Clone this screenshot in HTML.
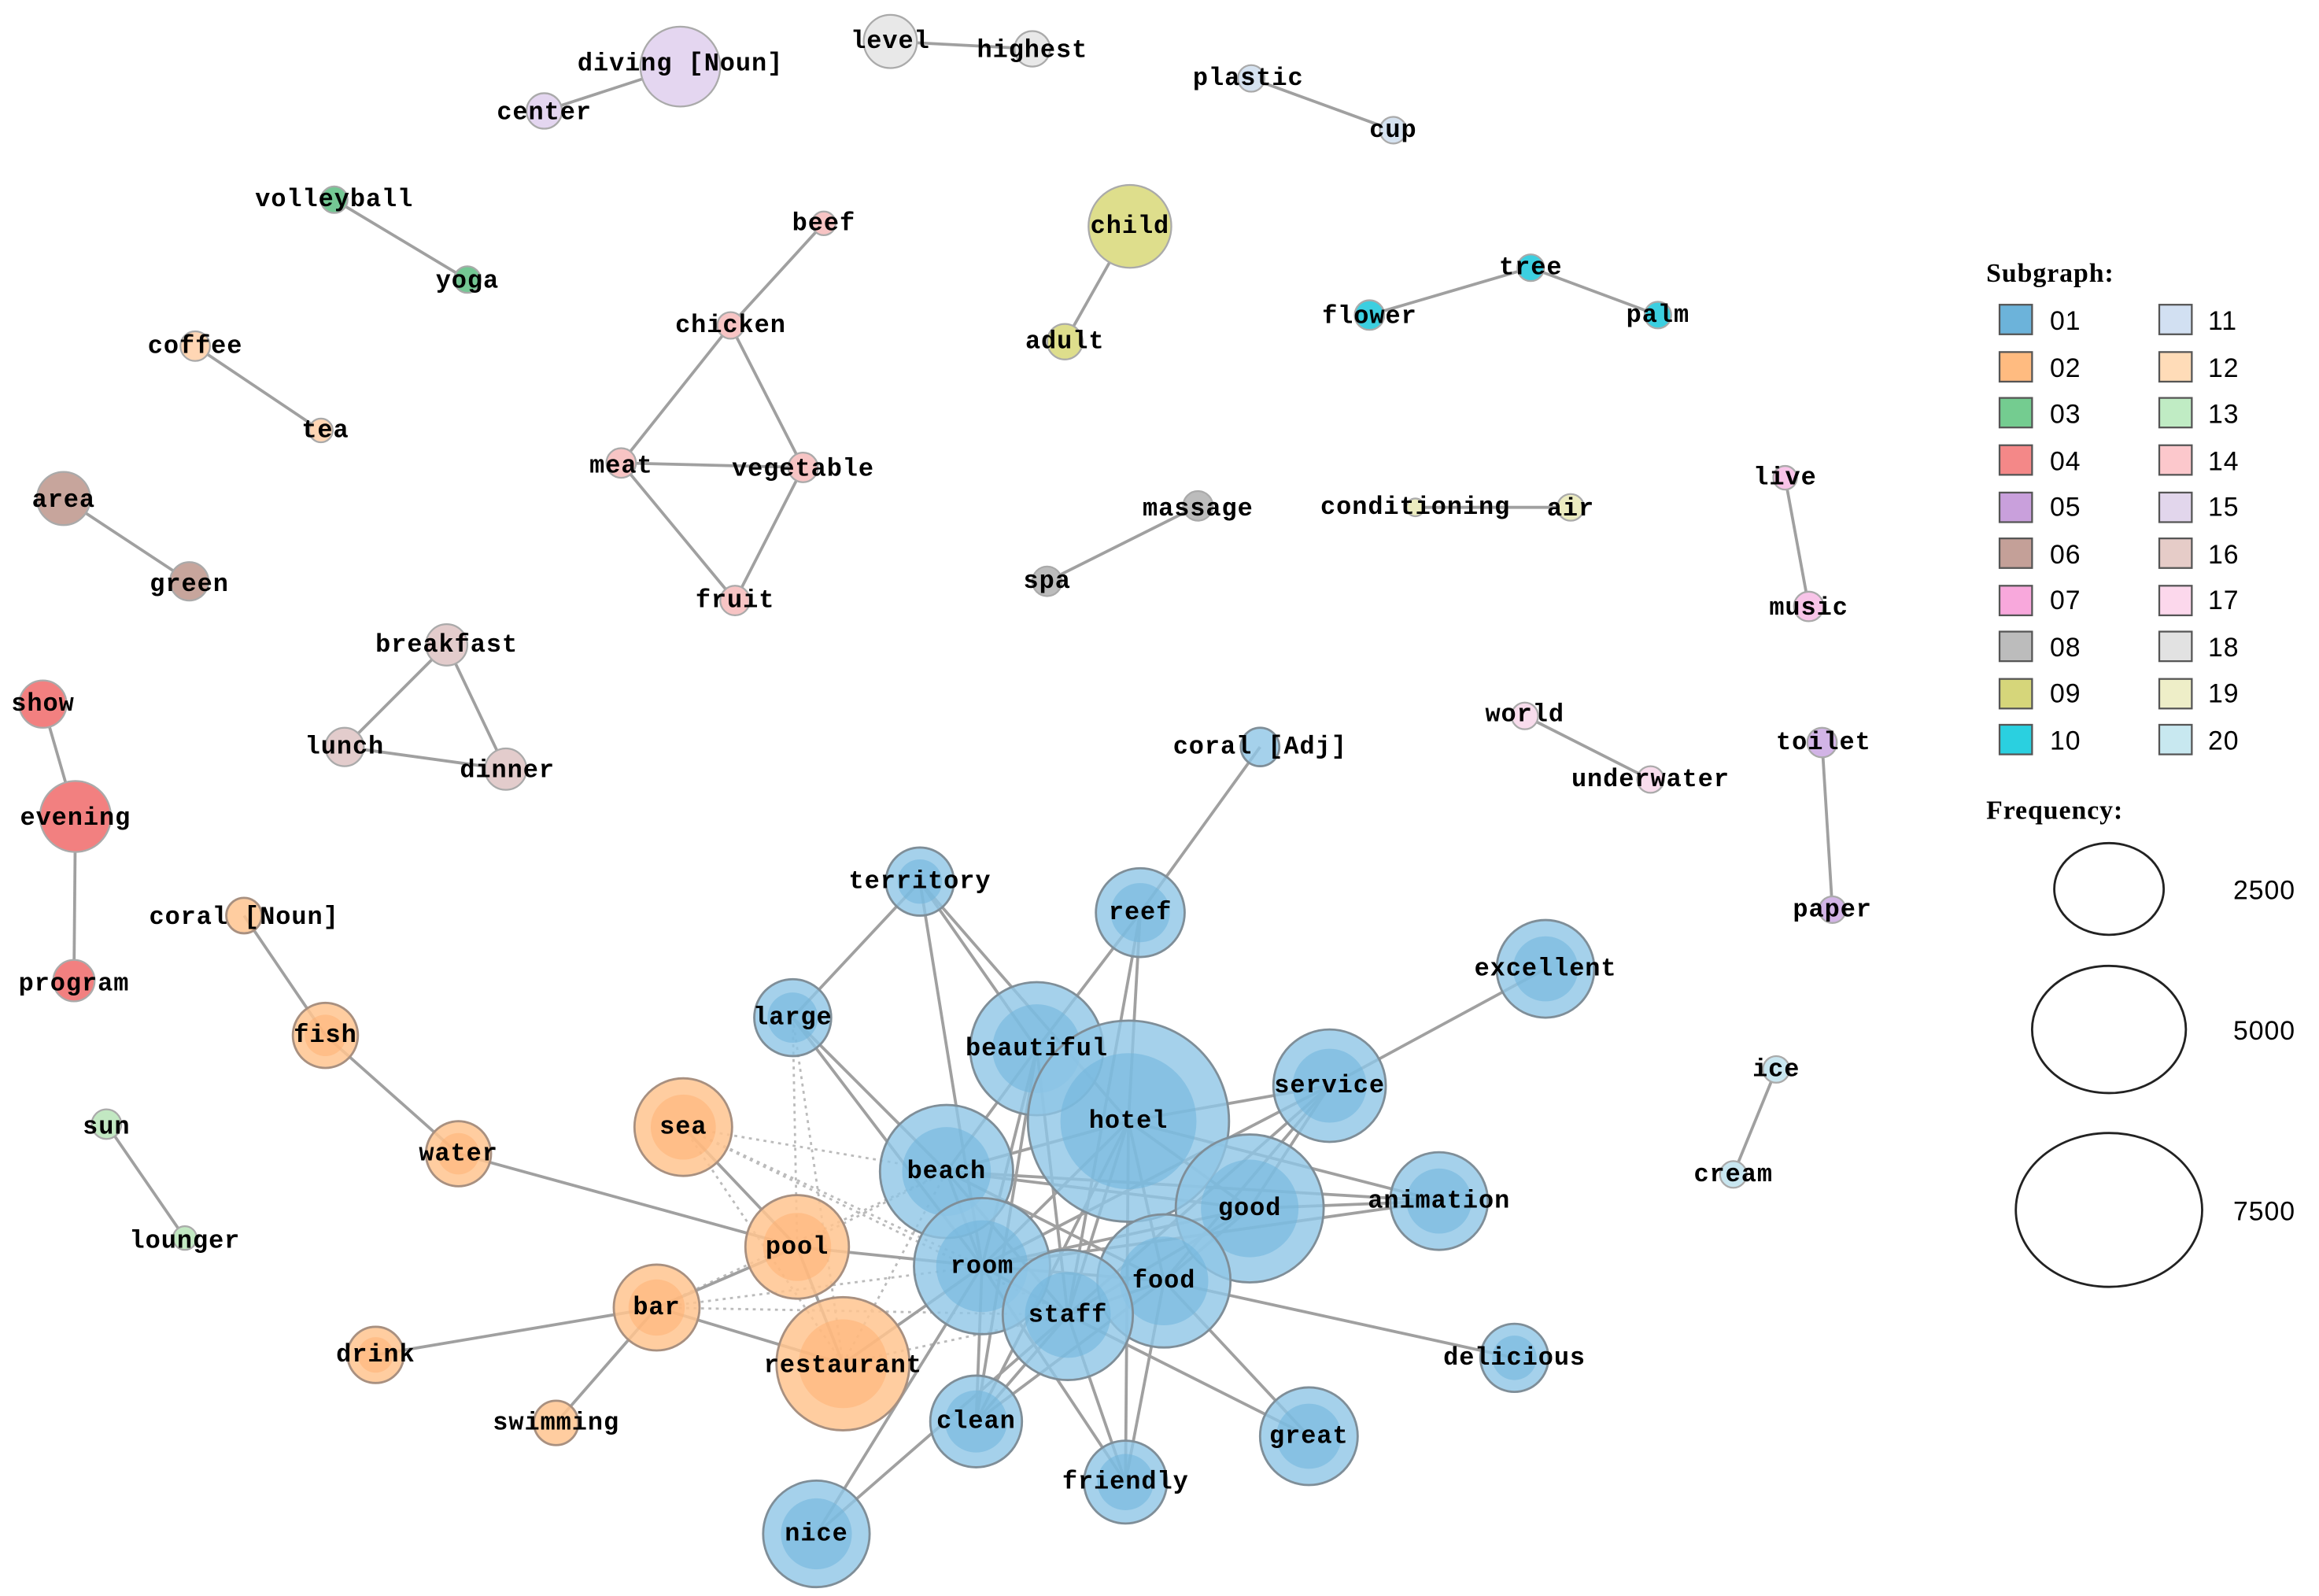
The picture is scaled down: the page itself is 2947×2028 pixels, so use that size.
<!DOCTYPE html>
<html><head><meta charset="utf-8"><style>
html,body{margin:0;padding:0;background:#fff;}
svg{display:block}
text{font-family:"Liberation Mono","DejaVu Sans Mono",monospace;font-size:17px;fill:#000;font-weight:bold;text-anchor:middle;dominant-baseline:central;letter-spacing:0.5px}
.e{stroke:#a0a0a0;stroke-width:2;fill:none}
.d{stroke:#bbb;stroke-width:1.5;stroke-dasharray:2 3;fill:none}
.b{fill:#8ec6e6;fill-opacity:.8;stroke:#7f8e98;stroke-width:1.5}
.bi{fill:#6fb4dc;fill-opacity:.55}
.o{fill:#ffc48f;fill-opacity:.85;stroke:#a89080;stroke-width:1.5}
.oi{fill:#ffb070;fill-opacity:.5}
.lg text{text-anchor:start;font-family:"Liberation Sans",sans-serif;font-size:18px;font-weight:normal}
</style></head><body>
<svg width="2947" height="2028" viewBox="0 0 1568 1079" xmlns="http://www.w3.org/2000/svg">
<g class="e">
<line x1="460" y1="45" x2="368" y2="75"/><line x1="602" y1="28" x2="698" y2="33"/><line x1="846" y1="53" x2="942" y2="88"/>
<line x1="226" y1="135" x2="316" y2="189"/><line x1="557" y1="151" x2="494" y2="220"/>
<line x1="494" y1="220" x2="420" y2="313"/><line x1="494" y1="220" x2="543" y2="316"/><line x1="420" y1="313" x2="543" y2="316"/><line x1="420" y1="313" x2="497" y2="406"/><line x1="543" y1="316" x2="497" y2="406"/>
<line x1="764" y1="153" x2="720" y2="231"/><line x1="926" y1="213" x2="1035" y2="181"/><line x1="1035" y1="181" x2="1121" y2="213"/>
<line x1="132" y1="234" x2="217" y2="291"/><line x1="43" y1="337" x2="128" y2="393"/>
<line x1="302" y1="436" x2="233" y2="505"/><line x1="302" y1="436" x2="342" y2="520"/><line x1="233" y1="505" x2="342" y2="520"/>
<line x1="810" y1="342" x2="708" y2="393"/><line x1="957" y1="343" x2="1062" y2="343"/><line x1="1207" y1="323" x2="1223" y2="410"/>
<line x1="29" y1="476" x2="51" y2="552"/><line x1="51" y1="552" x2="50" y2="663"/>
<line x1="1031" y1="484" x2="1116" y2="527"/><line x1="1232" y1="502" x2="1239" y2="615"/><line x1="1201" y1="723" x2="1172" y2="794"/>
<line x1="72" y1="760" x2="125" y2="837"/>
</g>
<g class="d">
<line x1="462" y1="762" x2="640" y2="792"/><line x1="462" y1="762" x2="664" y2="856"/><line x1="462" y1="762" x2="722" y2="889"/>
<line x1="539" y1="843" x2="640" y2="792"/><line x1="539" y1="843" x2="536" y2="688"/><line x1="444" y1="884" x2="664" y2="856"/>
<line x1="444" y1="884" x2="640" y2="792"/><line x1="570" y1="922" x2="722" y2="889"/><line x1="570" y1="922" x2="640" y2="792"/>
<line x1="536" y1="688" x2="570" y2="922"/><line x1="444" y1="884" x2="722" y2="889"/><line x1="462" y1="762" x2="570" y2="922"/>
</g>
<g class="e">
<line x1="852" y1="505" x2="771" y2="617"/><line x1="771" y1="617" x2="701" y2="709"/><line x1="771" y1="617" x2="763" y2="758"/><line x1="771" y1="617" x2="722" y2="889"/>
<line x1="622" y1="596" x2="536" y2="688"/><line x1="622" y1="596" x2="701" y2="709"/><line x1="622" y1="596" x2="763" y2="758"/><line x1="622" y1="596" x2="664" y2="856"/>
<line x1="536" y1="688" x2="640" y2="792"/><line x1="536" y1="688" x2="664" y2="856"/>
<line x1="701" y1="709" x2="640" y2="792"/><line x1="701" y1="709" x2="664" y2="856"/><line x1="701" y1="709" x2="722" y2="889"/><line x1="701" y1="709" x2="660" y2="961"/>
<line x1="763" y1="758" x2="899" y2="734"/><line x1="763" y1="758" x2="845" y2="817"/><line x1="763" y1="758" x2="640" y2="792"/><line x1="763" y1="758" x2="664" y2="856"/><line x1="763" y1="758" x2="787" y2="866"/><line x1="763" y1="758" x2="722" y2="889"/><line x1="763" y1="758" x2="973" y2="812"/><line x1="763" y1="758" x2="761" y2="1002"/><line x1="763" y1="758" x2="660" y2="961"/>
<line x1="899" y1="734" x2="1045" y2="655"/><line x1="899" y1="734" x2="845" y2="817"/><line x1="899" y1="734" x2="787" y2="866"/><line x1="899" y1="734" x2="664" y2="856"/><line x1="899" y1="734" x2="722" y2="889"/>
<line x1="845" y1="817" x2="973" y2="812"/><line x1="845" y1="817" x2="787" y2="866"/><line x1="845" y1="817" x2="640" y2="792"/><line x1="845" y1="817" x2="664" y2="856"/><line x1="845" y1="817" x2="722" y2="889"/>
<line x1="640" y1="792" x2="664" y2="856"/><line x1="640" y1="792" x2="722" y2="889"/><line x1="640" y1="792" x2="787" y2="866"/><line x1="640" y1="792" x2="973" y2="812"/>
<line x1="664" y1="856" x2="722" y2="889"/><line x1="664" y1="856" x2="787" y2="866"/><line x1="664" y1="856" x2="660" y2="961"/><line x1="664" y1="856" x2="761" y2="1002"/><line x1="664" y1="856" x2="552" y2="1037"/><line x1="664" y1="856" x2="973" y2="812"/>
<line x1="722" y1="889" x2="787" y2="866"/><line x1="722" y1="889" x2="660" y2="961"/><line x1="722" y1="889" x2="761" y2="1002"/><line x1="722" y1="889" x2="885" y2="971"/><line x1="722" y1="889" x2="552" y2="1037"/>
<line x1="787" y1="866" x2="1024" y2="918"/><line x1="787" y1="866" x2="885" y2="971"/><line x1="787" y1="866" x2="761" y2="1002"/><line x1="787" y1="866" x2="660" y2="961"/>
<line x1="165" y1="619" x2="220" y2="700"/><line x1="220" y1="700" x2="310" y2="780"/><line x1="310" y1="780" x2="539" y2="843"/><line x1="462" y1="762" x2="539" y2="843"/>
<line x1="539" y1="843" x2="444" y2="884"/><line x1="444" y1="884" x2="254" y2="916"/><line x1="444" y1="884" x2="376" y2="962"/><line x1="444" y1="884" x2="570" y2="922"/>
<line x1="539" y1="843" x2="570" y2="922"/><line x1="539" y1="843" x2="664" y2="856"/><line x1="570" y1="922" x2="664" y2="856"/>
</g>
<g>
<circle class="b" cx="852" cy="505" r="13"/><circle class="b" cx="622" cy="596" r="23"/><circle class="bi" cx="622" cy="596" r="15"/>
<circle class="b" cx="771" cy="617" r="30"/><circle class="bi" cx="771" cy="617" r="20"/>
<circle class="b" cx="536" cy="688" r="26"/><circle class="bi" cx="536" cy="688" r="17"/>
<circle class="b" cx="1045" cy="655" r="33"/><circle class="bi" cx="1045" cy="655" r="22"/>
<circle class="b" cx="701" cy="709" r="45"/><circle class="bi" cx="701" cy="709" r="30"/>
<circle class="b" cx="763" cy="758" r="68"/><circle class="bi" cx="763" cy="758" r="46"/>
<circle class="b" cx="899" cy="734" r="38"/><circle class="bi" cx="899" cy="734" r="25"/>
<circle class="b" cx="640" cy="792" r="45"/><circle class="bi" cx="640" cy="792" r="30"/>
<circle class="b" cx="845" cy="817" r="50"/><circle class="bi" cx="845" cy="817" r="33"/>
<circle class="b" cx="973" cy="812" r="33"/><circle class="bi" cx="973" cy="812" r="22"/>
<circle class="b" cx="664" cy="856" r="46"/><circle class="bi" cx="664" cy="856" r="31"/>
<circle class="b" cx="787" cy="866" r="45"/><circle class="bi" cx="787" cy="866" r="30"/>
<circle class="b" cx="722" cy="889" r="44"/><circle class="bi" cx="722" cy="889" r="29"/>
<circle class="b" cx="1024" cy="918" r="23"/><circle class="bi" cx="1024" cy="918" r="15"/>
<circle class="b" cx="660" cy="961" r="31"/><circle class="bi" cx="660" cy="961" r="21"/>
<circle class="b" cx="885" cy="971" r="33"/><circle class="bi" cx="885" cy="971" r="22"/>
<circle class="b" cx="761" cy="1002" r="28"/><circle class="bi" cx="761" cy="1002" r="19"/>
<circle class="b" cx="552" cy="1037" r="36"/><circle class="bi" cx="552" cy="1037" r="24"/>
</g>
<g>
<circle class="o" cx="165" cy="619" r="12"/>
<circle class="o" cx="220" cy="700" r="22"/><circle class="oi" cx="220" cy="700" r="14"/>
<circle class="o" cx="462" cy="762" r="33"/><circle class="oi" cx="462" cy="762" r="22"/>
<circle class="o" cx="310" cy="780" r="22"/><circle class="oi" cx="310" cy="780" r="14"/>
<circle class="o" cx="539" cy="843" r="35"/><circle class="oi" cx="539" cy="843" r="23"/>
<circle class="o" cx="444" cy="884" r="29"/><circle class="oi" cx="444" cy="884" r="19"/>
<circle class="o" cx="254" cy="916" r="19"/><circle class="oi" cx="254" cy="916" r="12"/>
<circle class="o" cx="570" cy="922" r="45"/><circle class="oi" cx="570" cy="922" r="30"/>
<circle class="o" cx="376" cy="962" r="15"/>
</g>
<g stroke="#aaa" stroke-width="1.2">
<circle cx="460" cy="45" r="27" fill="#e4d6f0"/><circle cx="368" cy="75" r="12" fill="#e4d6f0"/>
<circle cx="602" cy="28" r="18" fill="#e8e8e8"/><circle cx="698" cy="33" r="12" fill="#e8e8e8"/>
<circle cx="846" cy="53" r="9" fill="#d5e2f0"/><circle cx="942" cy="88" r="9" fill="#d5e2f0"/>
<circle cx="226" cy="135" r="9" fill="#74c794"/><circle cx="316" cy="189" r="9" fill="#74c794"/>
<circle cx="557" cy="151" r="8" fill="#f7c4c4"/><circle cx="494" cy="220" r="9" fill="#f7c4c4"/><circle cx="420" cy="313" r="10" fill="#f7c4c4"/><circle cx="543" cy="316" r="10" fill="#f7c4c4"/><circle cx="497" cy="406" r="10" fill="#f7c4c4"/>
<circle cx="764" cy="153" r="28" fill="#dede8c"/><circle cx="720" cy="231" r="12" fill="#dede8c"/>
<circle cx="926" cy="213" r="10" fill="#3ccfe0"/><circle cx="1035" cy="181" r="9" fill="#3ccfe0"/><circle cx="1121" cy="213" r="9" fill="#3ccfe0"/>
<circle cx="132" cy="234" r="10" fill="#ffd6b4"/><circle cx="217" cy="291" r="8" fill="#ffd6b4"/>
<circle cx="43" cy="337" r="18" fill="#c7a59c"/><circle cx="128" cy="393" r="13" fill="#c7a59c"/>
<circle cx="302" cy="436" r="14" fill="#e3cccc"/><circle cx="233" cy="505" r="13" fill="#e3cccc"/><circle cx="342" cy="520" r="14" fill="#e3cccc"/>
<circle cx="810" cy="342" r="10" fill="#bcbcbc"/><circle cx="708" cy="393" r="10" fill="#bcbcbc"/>
<circle cx="957" cy="343" r="6" fill="#ececc0"/><circle cx="1062" cy="343" r="9" fill="#ececc0"/>
<circle cx="1207" cy="323" r="8" fill="#f8c4e8"/><circle cx="1223" cy="410" r="10" fill="#f8c4e8"/>
<circle cx="29" cy="476" r="16" fill="#f28080"/><circle cx="51" cy="552" r="24" fill="#f28080"/><circle cx="50" cy="663" r="14" fill="#f28080"/>
<circle cx="1031" cy="484" r="9" fill="#f8dcec"/><circle cx="1116" cy="527" r="9" fill="#f8dcec"/>
<circle cx="1232" cy="502" r="10" fill="#d2b4e6"/><circle cx="1239" cy="615" r="9" fill="#d2b4e6"/>
<circle cx="1201" cy="723" r="9" fill="#c8e6f0"/><circle cx="1172" cy="794" r="9" fill="#c8e6f0"/>
<circle cx="72" cy="760" r="10" fill="#c2e8c2"/><circle cx="125" cy="837" r="8" fill="#c2e8c2"/>
</g>
<g>
<text x="460" y="43">diving [Noun]</text><text x="368" y="76">center</text><text x="602" y="28">level</text><text x="698" y="34">highest</text>
<text x="844" y="53">plastic</text><text x="942" y="88">cup</text><text x="226" y="135">volleyball</text><text x="316" y="190">yoga</text>
<text x="557" y="151">beef</text><text x="494" y="220">chicken</text><text x="420" y="315">meat</text><text x="543" y="317">vegetable</text><text x="497" y="406">fruit</text>
<text x="764" y="153">child</text><text x="720" y="231">adult</text><text x="926" y="214">flower</text><text x="1035" y="181">tree</text><text x="1121" y="213">palm</text>
<text x="132" y="234">coffee</text><text x="220" y="291">tea</text><text x="43" y="338">area</text><text x="128" y="395">green</text>
<text x="302" y="436">breakfast</text><text x="233" y="505">lunch</text><text x="343" y="521">dinner</text>
<text x="810" y="344">massage</text><text x="708" y="393">spa</text><text x="957" y="343">conditioning</text><text x="1062" y="344">air</text>
<text x="1207" y="323">live</text><text x="1223" y="411">music</text>
<text x="29" y="476">show</text><text x="51" y="553">evening</text><text x="50" y="665">program</text>
<text x="1031" y="483">world</text><text x="1116" y="527">underwater</text><text x="1233" y="502">toilet</text><text x="1239" y="615">paper</text>
<text x="1201" y="723">ice</text><text x="1172" y="794">cream</text><text x="72" y="762">sun</text><text x="125" y="839">lounger</text>
<text x="852" y="505">coral [Adj]</text><text x="622" y="596">territory</text><text x="771" y="617">reef</text><text x="536" y="688">large</text>
<text x="1045" y="655">excellent</text><text x="701" y="709">beautiful</text><text x="763" y="758">hotel</text><text x="899" y="734">service</text>
<text x="640" y="792">beach</text><text x="845" y="817">good</text><text x="973" y="812">animation</text><text x="664" y="856">room</text>
<text x="787" y="866">food</text><text x="722" y="889">staff</text><text x="1024" y="918">delicious</text><text x="660" y="961">clean</text>
<text x="885" y="971">great</text><text x="761" y="1002">friendly</text><text x="552" y="1037">nice</text>
<text x="165" y="620">coral [Noun]</text><text x="220" y="700">fish</text><text x="462" y="762">sea</text><text x="310" y="780">water</text>
<text x="539" y="843">pool</text><text x="444" y="884">bar</text><text x="254" y="916">drink</text><text x="570" y="923">restaurant</text><text x="376" y="962">swimming</text>
</g>
<g class="lg">
<text x="1343" y="185" style="font-family:'Liberation Serif',serif;font-weight:bold;font-size:18px">Subgraph:</text>
<g stroke="#555" stroke-width="1.2">
<rect x="1352" y="206" width="22" height="20" fill="#6cb3da"/><rect x="1352" y="238" width="22" height="20" fill="#ffbb80"/>
<rect x="1352" y="269" width="22" height="20" fill="#74cc90"/><rect x="1352" y="301" width="22" height="20" fill="#f48888"/>
<rect x="1352" y="333" width="22" height="20" fill="#c9a0dc"/><rect x="1352" y="364" width="22" height="20" fill="#c4a098"/>
<rect x="1352" y="396" width="22" height="20" fill="#f8a8dc"/><rect x="1352" y="427" width="22" height="20" fill="#bcbcbc"/>
<rect x="1352" y="459" width="22" height="20" fill="#d6d67a"/><rect x="1352" y="490" width="22" height="20" fill="#2ad0e0"/>
<rect x="1460" y="206" width="22" height="20" fill="#d2e0f2"/><rect x="1460" y="238" width="22" height="20" fill="#ffdcb8"/>
<rect x="1460" y="269" width="22" height="20" fill="#c0ecc4"/><rect x="1460" y="301" width="22" height="20" fill="#fcc8cc"/>
<rect x="1460" y="333" width="22" height="20" fill="#e2d6ec"/><rect x="1460" y="364" width="22" height="20" fill="#e6ccc8"/>
<rect x="1460" y="396" width="22" height="20" fill="#fcd8ec"/><rect x="1460" y="427" width="22" height="20" fill="#e2e2e2"/>
<rect x="1460" y="459" width="22" height="20" fill="#eeeec8"/><rect x="1460" y="490" width="22" height="20" fill="#c8e8f0"/>
</g>
<text x="1386" y="217">01</text><text x="1386" y="249">02</text><text x="1386" y="280">03</text><text x="1386" y="312">04</text><text x="1386" y="343">05</text>
<text x="1386" y="375">06</text><text x="1386" y="406">07</text><text x="1386" y="438">08</text><text x="1386" y="469">09</text><text x="1386" y="501">10</text>
<text x="1493" y="217">11</text><text x="1493" y="249">12</text><text x="1493" y="280">13</text><text x="1493" y="312">14</text><text x="1493" y="343">15</text>
<text x="1493" y="375">16</text><text x="1493" y="406">17</text><text x="1493" y="438">18</text><text x="1493" y="469">19</text><text x="1493" y="501">20</text>
<text x="1343" y="548" style="font-family:'Liberation Serif',serif;font-weight:bold;font-size:18px">Frequency:</text>
<ellipse cx="1426" cy="601" rx="37" ry="31" fill="none" stroke="#222" stroke-width="1.5"/>
<ellipse cx="1426" cy="696" rx="52" ry="43" fill="none" stroke="#222" stroke-width="1.5"/>
<ellipse cx="1426" cy="818" rx="63" ry="52" fill="none" stroke="#222" stroke-width="1.5"/>
<text x="1510" y="602">2500</text><text x="1510" y="697">5000</text><text x="1510" y="819">7500</text>
</g>
</svg>
</body></html>
